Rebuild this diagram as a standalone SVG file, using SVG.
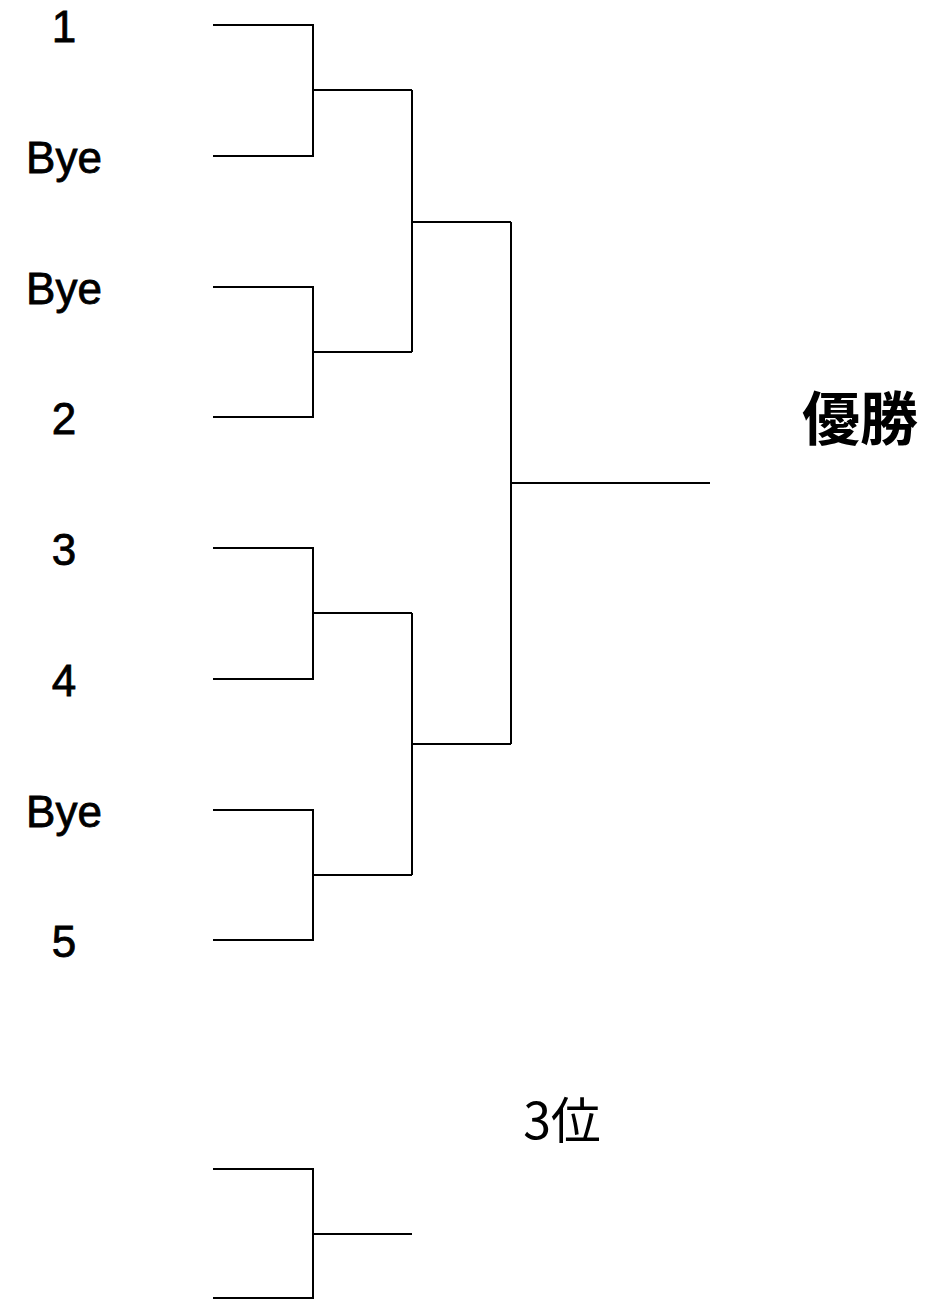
<svg xmlns="http://www.w3.org/2000/svg" width="938" height="1300" viewBox="0 0 938 1300">
<style>
.lbl{font-family:"Liberation Sans","Noto Sans CJK JP",sans-serif;font-size:44px;fill:#000;stroke:#000;stroke-width:0.8px;text-anchor:middle}
.ttl{font-family:"Noto Sans CJK JP","Liberation Sans",sans-serif;fill:#000}
.ln{fill:none;stroke:#000;stroke-width:2}
</style>
<rect width="938" height="1300" fill="#fff"/>
<g id="labels">
<g id="n1"><text class="lbl" x="64" y="42">1</text></g>
<g id="n2"><text class="lbl" x="64" y="173">Bye</text></g>
<g id="n3"><text class="lbl" x="64" y="304">Bye</text></g>
<g id="n4"><text class="lbl" x="64" y="434">2</text></g>
<g id="n5"><text class="lbl" x="64" y="565">3</text></g>
<g id="n6"><text class="lbl" x="64" y="696">4</text></g>
<g id="n7"><text class="lbl" x="64" y="827">Bye</text></g>
<g id="n8"><text class="lbl" x="64" y="957">5</text></g>
<g id="champ"><text class="ttl" x="860" y="440" font-size="58" font-weight="bold" text-anchor="middle">優勝</text></g>
<g id="third"><text class="ttl" x="562" y="1139" font-size="50" text-anchor="middle">3位</text></g>
</g>
<g id="connectors" class="ln">
<path d="M213 25H313V156H213M313 90H412"/>
<path d="M213 287H313V417H213M313 352H412"/>
<path d="M213 548H313V679H213M313 613H412"/>
<path d="M213 810H313V940H213M313 875H412"/>
<path d="M412 90V352M412 222H511"/>
<path d="M412 613V875M412 744H511"/>
<path d="M511 222V744M511 483H710"/>
<path d="M213 1169H313V1298H213M313 1234H412"/>
</g>
</svg>
